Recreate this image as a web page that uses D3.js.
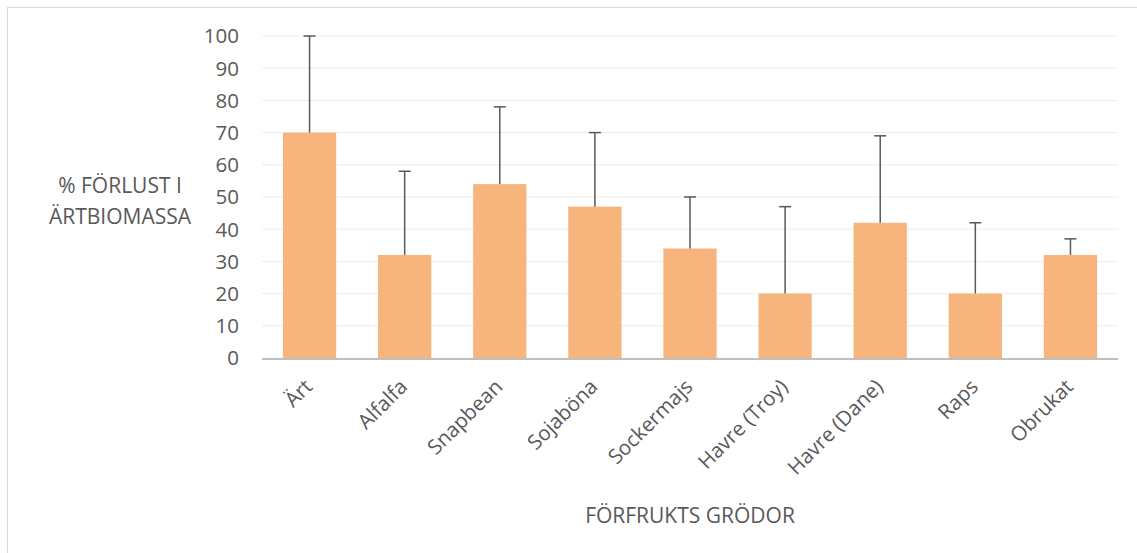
<!DOCTYPE html>
<html>
<head>
<meta charset="utf-8">
<script src="https://cdn.jsdelivr.net/npm/d3@7"></script>
<style>
  body { margin: 0; background: #fff; }
  svg { font-family: "Open Sans", sans-serif; }
</style>
</head>
<body>
<svg width="1137" height="553"></svg>
<script>
// Data
var crops = ["Ärt", "Alfalfa", "Snapbean", "Sojaböna", "Sockermajs", "Havre (Troy)", "Havre (Dane)", "Raps", "Obrukat"];
var loss = [70, 32, 54, 47, 34, 20, 42, 20, 32];
var errUp = [30, 26, 24, 23, 16, 27, 27, 22, 5];
var yTicks = [0, 10, 20, 30, 40, 50, 60, 70, 80, 90, 100];

var svg = d3.select("svg");
var textColor = "#595959";

// chart frame
svg.append("rect")
    .attr("x", 7.5).attr("y", 7.5)
    .attr("width", 1140).attr("height", 560)
    .attr("fill", "none")
    .attr("stroke", "#d9d9d9");

var plotLeft = 262, plotRight = 1118, plotTop = 36, plotBottom = 358;

var x = d3.scaleBand().domain(crops).range([plotLeft, plotRight]).paddingInner(0.44).paddingOuter(0.22);
var y = d3.scaleLinear().domain([0, 100]).range([plotBottom, plotTop]);

// grid
svg.append("g")
    .selectAll("line")
    .data(yTicks.slice(1))
    .join("line")
        .attr("x1", plotLeft).attr("x2", plotRight)
        .attr("y1", d => y(d)).attr("y2", d => y(d))
        .attr("stroke", "#ececec")
        .attr("stroke-width", 1);

// y tick labels
svg.append("g")
    .selectAll("text")
    .data(yTicks)
    .join("text")
        .attr("x", 239)
        .attr("y", d => y(d))
        .attr("dy", "0.36em")
        .attr("text-anchor", "end")
        .attr("font-size", 20.5)
        .attr("fill", textColor)
        .text(d => d);

// bars
svg.append("g")
    .selectAll("rect")
    .data(crops)
    .join("rect")
        .attr("x", d => x(d))
        .attr("y", (d, i) => y(loss[i]))
        .attr("width", x.bandwidth())
        .attr("height", (d, i) => y(0) - y(loss[i]))
        .attr("fill", "#F8B47D");

// error bars (upper only)
var err = svg.append("g")
    .attr("stroke", "#595959")
    .attr("stroke-width", 1.5);
err.selectAll("line.v")
    .data(crops)
    .join("line")
        .attr("class", "v")
        .attr("x1", d => x(d) + x.bandwidth() / 2)
        .attr("x2", d => x(d) + x.bandwidth() / 2)
        .attr("y1", (d, i) => y(loss[i]))
        .attr("y2", (d, i) => y(loss[i] + errUp[i]));
err.selectAll("line.cap")
    .data(crops)
    .join("line")
        .attr("class", "cap")
        .attr("x1", d => x(d) + x.bandwidth() / 2 - 6)
        .attr("x2", d => x(d) + x.bandwidth() / 2 + 6)
        .attr("y1", (d, i) => y(loss[i] + errUp[i]))
        .attr("y2", (d, i) => y(loss[i] + errUp[i]));

// baseline
svg.append("line")
    .attr("x1", plotLeft).attr("x2", plotRight)
    .attr("y1", plotBottom + 1).attr("y2", plotBottom + 1)
    .attr("stroke", "#bfbfbf")
    .attr("stroke-width", 2);

// x labels, rotated
svg.append("g")
    .selectAll("text")
    .data(crops)
    .join("text")
        .attr("transform", d => `translate(${x(d) + x.bandwidth() / 2 + 4},${plotBottom + 30}) rotate(-45)`)
        .attr("text-anchor", "end")
        .attr("font-size", 20.5)
        .attr("fill", textColor)
        .text(d => d);

// axis titles
var yTitle = svg.append("text")
    .attr("text-anchor", "middle")
    .attr("font-size", 21)
    .attr("fill", textColor);
yTitle.append("tspan").attr("x", 120).attr("y", 193).text("% FÖRLUST I");
yTitle.append("tspan").attr("x", 120).attr("y", 224).text("ÄRTBIOMASSA");

svg.append("text")
    .attr("x", 690).attr("y", 523)
    .attr("text-anchor", "middle")
    .attr("font-size", 21)
    .attr("fill", textColor)
    .text("FÖRFRUKTS GRÖDOR");
</script>
</body>
</html>
